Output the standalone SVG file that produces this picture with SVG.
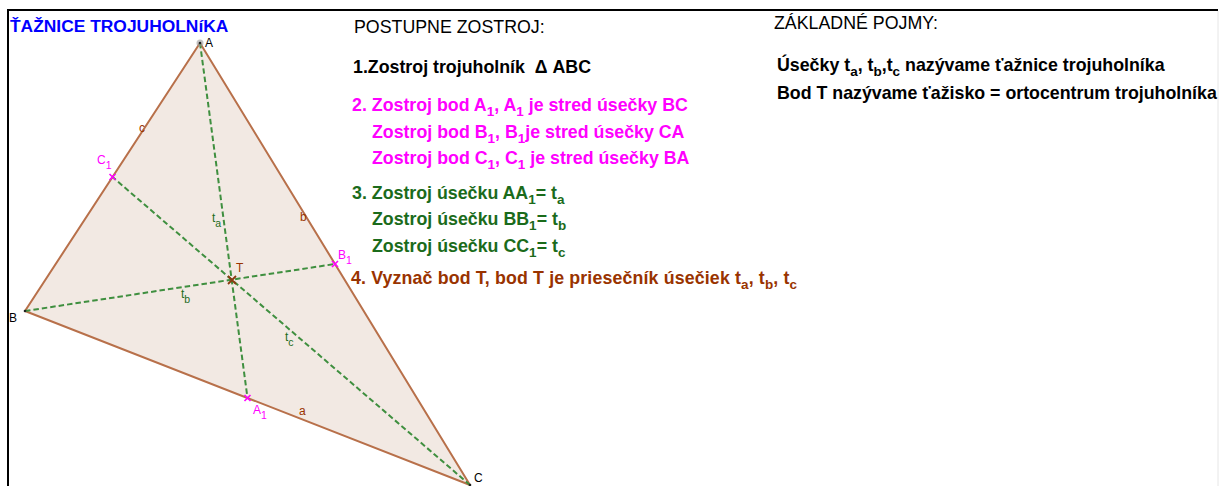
<svg xmlns="http://www.w3.org/2000/svg" width="1219" height="486" viewBox="0 0 1219 486">
<style>
text{font-family:"Liberation Sans",Arial,sans-serif}
.lbl{font-size:12px}
.hdr{font-size:17.8px}
.step{font-size:17.8px;font-weight:bold}
.sub{font-size:13.5px}
.mag{fill:#FF00FF}
.grn{fill:#1B6B1B}
.brn{fill:#993300}
.med{stroke:#3F8F3F;stroke-width:2;stroke-dasharray:5.5 3;fill:none}
.xm{stroke:#FF00FF;stroke-width:1.6}
</style>
<rect width="1219" height="486" fill="#fff"/>
<g id="frame" stroke="#000" stroke-width="2">
<line x1="8" y1="10" x2="1218" y2="10"/>
<line x1="8" y1="9" x2="8" y2="486"/>
<line x1="1218" y1="11" x2="1218" y2="486" stroke="#e6e6e6" stroke-width="1"/>
</g>
<text id="title" x="10" y="32" font-size="17.4" font-weight="bold" fill="#0000FF">ŤAŽNICE TROJUHOLNíKA</text>
<g id="triangle">
<polygon points="200,43 25,311 470,485" fill="#F2E9E3" stroke="#B8704A" stroke-width="2" stroke-linejoin="round"/>
</g>
<g id="connectors">
<line class="med" x1="200" y1="43" x2="247.5" y2="398"/>
<line class="med" x1="25" y1="311" x2="335" y2="264"/>
<line class="med" x1="470" y1="485" x2="112.5" y2="177"/>
</g>
<g id="vertexA">
<circle cx="200" cy="43" r="3.5" fill="#999" opacity="0.6"/>
<circle cx="200" cy="43" r="1.3" fill="#222"/>
<text class="lbl" x="205" y="47">A</text>
</g>
<g id="vertexB">
<circle cx="25" cy="311" r="1.3" fill="#222"/>
<text class="lbl" x="9" y="322">B</text>
</g>
<g id="vertexC">
<circle cx="470" cy="485" r="1.3" fill="#222"/>
<text class="lbl" x="474" y="482">C</text>
</g>
<g id="sideLabels">
<text class="lbl brn" x="299" y="415">a</text>
<text class="lbl brn" x="300" y="221">b</text>
<text class="lbl brn" x="139" y="132">c</text>
</g>
<g id="A1">
<path class="xm" d="M244.5 395L250.5 401M250.5 395L244.5 401"/>
<text class="lbl mag" x="253" y="414">A<tspan font-size="10.5" dy="5">1</tspan></text>
</g>
<g id="B1">
<path class="xm" d="M332 261L338 267M338 261L332 267"/>
<text class="lbl mag" x="338" y="259">B<tspan font-size="10.5" dy="5">1</tspan></text>
</g>
<g id="C1">
<path class="xm" d="M109.5 174L115.5 180M115.5 174L109.5 180"/>
<text class="lbl mag" x="97" y="164">C<tspan font-size="10.5" dy="5">1</tspan></text>
</g>
<g id="T">
<path d="M228 276L236 284M236 276L228 284" stroke="#8B3A10" stroke-width="1.8"/>
<text class="lbl brn" x="236" y="272">T</text>
</g>
<g id="medianLabels">
<text class="lbl grn" x="212" y="222">t<tspan font-size="10.5" dy="5">a</tspan></text>
<text class="lbl grn" x="181" y="298">t<tspan font-size="10.5" dy="5">b</tspan></text>
<text class="lbl grn" x="285" y="341">t<tspan font-size="10.5" dy="5">c</tspan></text>
</g>
<g id="steps">
<text class="hdr" x="354" y="33">POSTUPNE ZOSTROJ:</text>
<text class="step" x="353" y="73">1.Zostroj trojuholník &#160;Δ ABC</text>
<text class="step mag" x="352" y="111">2. Zostroj bod A<tspan class="sub" dy="5">1</tspan><tspan dy="-5">, A</tspan><tspan class="sub" dy="5">1</tspan><tspan dy="-5"> je stred úsečky BC</tspan></text>
<text class="step mag" x="372" y="138">Zostroj bod B<tspan class="sub" dy="5">1</tspan><tspan dy="-5">, B</tspan><tspan class="sub" dy="5">1</tspan><tspan dy="-5">je stred úsečky CA</tspan></text>
<text class="step mag" x="372" y="164">Zostroj bod C<tspan class="sub" dy="5">1</tspan><tspan dy="-5">, C</tspan><tspan class="sub" dy="5">1</tspan><tspan dy="-5"> je stred úsečky BA</tspan></text>
<text class="step grn" x="352" y="199">3. Zostroj úsečku AA<tspan class="sub" dy="5">1</tspan><tspan dy="-5">= t</tspan><tspan class="sub" dy="5">a</tspan></text>
<text class="step grn" x="372" y="225">Zostroj úsečku BB<tspan class="sub" dy="5">1</tspan><tspan dy="-5">= t</tspan><tspan class="sub" dy="5">b</tspan></text>
<text class="step grn" x="372" y="252">Zostroj úsečku CC<tspan class="sub" dy="5">1</tspan><tspan dy="-5">= t</tspan><tspan class="sub" dy="5">c</tspan></text>
<text class="step brn" x="351" y="284" textLength="446">4. Vyznač bod T, bod T je priesečník úsečiek t<tspan class="sub" dy="5">a</tspan><tspan dy="-5">, t</tspan><tspan class="sub" dy="5">b</tspan><tspan dy="-5">, t</tspan><tspan class="sub" dy="5">c</tspan></text>
</g>
<g id="concepts">
<text class="hdr" x="774" y="29">ZÁKLADNÉ POJMY:</text>
<text class="step" x="777" y="71">Úsečky t<tspan class="sub" dy="5">a</tspan><tspan dy="-5">, t</tspan><tspan class="sub" dy="5">b</tspan><tspan dy="-5">,t</tspan><tspan class="sub" dy="5">c</tspan><tspan dy="-5"> nazývame ťažnice trojuholníka</tspan></text>
<text class="step" x="777" y="99">Bod T nazývame ťažisko = ortocentrum trojuholníka</text>
</g>
</svg>
